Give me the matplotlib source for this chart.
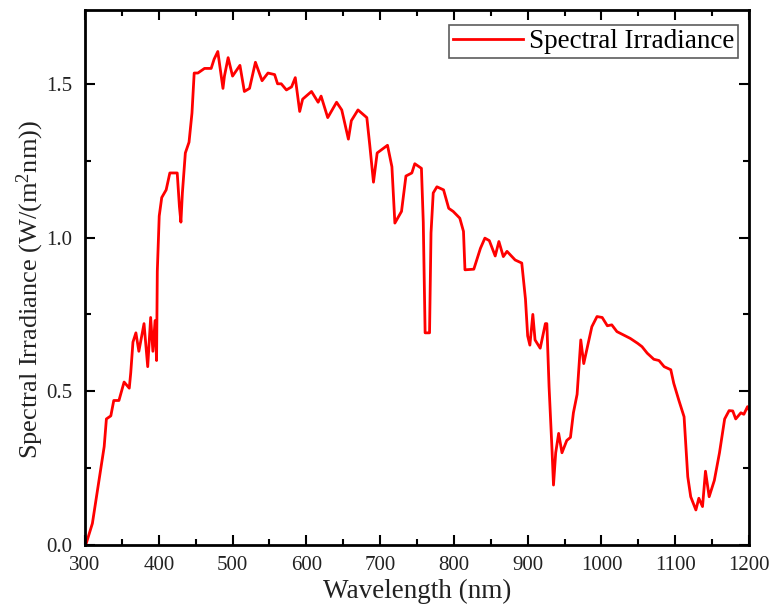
import matplotlib
matplotlib.use("Agg")
import matplotlib.pyplot as plt
from matplotlib.ticker import MultipleLocator, FormatStrFormatter

wavelength = [300, 301, 310, 319, 326, 329, 335, 339, 346, 353, 360, 362, 365, 369, 373,
              380, 385, 389, 392, 395, 397, 398, 400.6, 404, 410, 415, 425, 428, 430, 432,
              436, 441, 445, 448, 453, 462, 471, 475, 480, 487, 489, 494, 500, 510, 516,
              523, 531, 540, 548, 557, 561, 566, 573, 580, 585, 591, 595, 607, 616, 620,
              629, 641, 648, 657, 661, 670, 682, 686, 691, 696, 710, 716, 720, 729, 735,
              743, 747, 756, 758.5, 761, 767, 769, 772, 777, 786, 793, 799, 808, 813, 815,
              827, 836, 842, 848, 856, 861, 867, 872, 883, 892, 897, 900, 903, 907, 910,
              917, 924, 926, 929, 933, 935, 938, 942, 946.5, 953, 958, 962, 967, 972, 976,
              981, 987, 994, 1001, 1008, 1014, 1021, 1030, 1039, 1049, 1055, 1062, 1071,
              1078, 1085, 1094, 1098, 1105, 1112, 1117, 1121, 1128, 1132, 1137, 1141, 1146,
              1153, 1160, 1167, 1173, 1178, 1182, 1189, 1193, 1198, 1200]
irradiance = [0.0, 0.0, 0.07, 0.21, 0.32, 0.41, 0.42, 0.47, 0.47, 0.53, 0.51, 0.56, 0.66, 0.69, 0.63,
              0.72, 0.58, 0.74, 0.63, 0.73, 0.60, 0.89, 1.07, 1.13, 1.155, 1.21, 1.21, 1.10, 1.05, 1.145,
              1.275, 1.31, 1.405, 1.535, 1.535, 1.55, 1.55, 1.58, 1.605, 1.485, 1.525, 1.585, 1.525, 1.56, 1.475,
              1.485, 1.57, 1.51, 1.535, 1.53, 1.50, 1.50, 1.48, 1.49, 1.52, 1.41, 1.45, 1.475, 1.44, 1.46,
              1.39, 1.44, 1.415, 1.32, 1.38, 1.415, 1.39, 1.30, 1.18, 1.275, 1.30, 1.23, 1.047, 1.085, 1.20,
              1.21, 1.24, 1.225, 1.05, 0.69, 0.69, 1.015, 1.145, 1.165, 1.155, 1.095, 1.085, 1.063, 1.02, 0.895,
              0.897, 0.965, 0.998, 0.99, 0.94, 0.987, 0.938, 0.955, 0.927, 0.917, 0.80, 0.68, 0.65, 0.75, 0.667,
              0.64, 0.72, 0.72, 0.515, 0.31, 0.195, 0.30, 0.363, 0.30, 0.34, 0.35, 0.43, 0.49, 0.667, 0.59,
              0.645, 0.71, 0.743, 0.74, 0.713, 0.716, 0.694, 0.683, 0.672, 0.656, 0.645, 0.624, 0.604,
              0.60, 0.58, 0.57, 0.526, 0.47, 0.417, 0.222, 0.157, 0.114, 0.152, 0.125, 0.24, 0.157,
              0.21, 0.30, 0.41, 0.437, 0.436, 0.41, 0.43, 0.425, 0.45, 0.44]

plt.rcParams['font.family'] = ['Liberation Serif', 'DejaVu Serif']
plt.rcParams['mathtext.fontset'] = 'custom'
plt.rcParams['mathtext.rm'] = 'Liberation Serif'
plt.rcParams['mathtext.it'] = 'Liberation Serif:italic'

fig = plt.figure(figsize=(7.74, 6.12), dpi=100)
ax = fig.add_axes([85/774, 1-545/612, (749-85)/774, (545-10)/612])
ax.plot(wavelength, irradiance, color='#ff0000', lw=2, label='Spectral Irradiance')
ax.set_xlim(300, 1200)
ax.set_ylim(0, 1.74)
ax.xaxis.set_major_locator(MultipleLocator(100))
ax.xaxis.set_minor_locator(MultipleLocator(50))
ax.yaxis.set_major_locator(MultipleLocator(0.5))
ax.yaxis.set_minor_locator(MultipleLocator(0.25))
ax.yaxis.set_major_formatter(FormatStrFormatter('%.1f'))
ax.tick_params(which='both', direction='in', top=True, right=True, width=1.5,
               labelsize=15, colors='black', labelcolor='#222222')
ax.tick_params(which='major', length=7)
ax.tick_params(which='minor', length=4)
ax.tick_params(axis='x', pad=8)
ax.tick_params(axis='y', pad=9)
for s in ax.spines.values():
    s.set_linewidth(2)
ax.set_xlabel('Wavelength (nm)', fontsize=19.5, labelpad=3, color='#222222')
ax.set_ylabel('Spectral Irradiance (W/(m$^\\mathregular{2}$nm))', fontsize=19, color='#222222')
ax.yaxis.set_label_coords(-0.058, 0.478)
leg = ax.legend(loc='upper right', fontsize=19.5, frameon=True, fancybox=False,
                edgecolor='#333333', handlelength=2.6, borderpad=0.15, handletextpad=0.2,
                borderaxespad=0, bbox_to_anchor=((738-85)/664, (545-25)/535))
leg.get_frame().set_linewidth(1.2)
fig.savefig('out.png', dpi=100)
